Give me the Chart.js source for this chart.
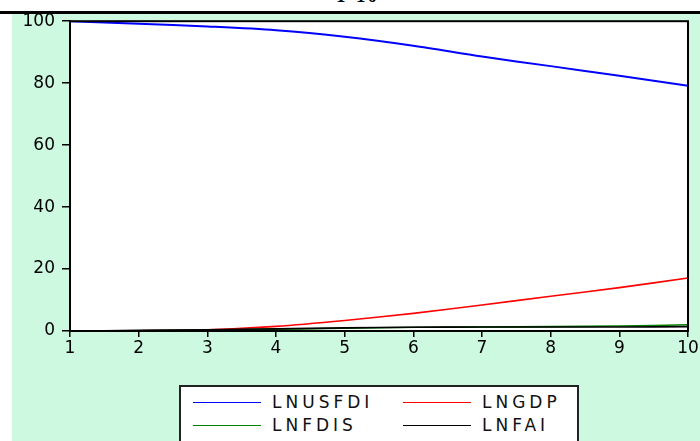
<!DOCTYPE html>
<html lang="en">
<head>
  <meta charset="UTF-8" />
  <title>Variance decomposition of LNUSFDI</title>
  <script src="https://cdn.jsdelivr.net/npm/chart.js"></script>
  <style>
    body { margin: 0; width: 700px; height: 441px; background: #fff; position: relative; overflow: hidden; font-family: "DejaVu Sans", sans-serif; }
    #title { position: absolute; left: 0; width: 714px; top: -15px; text-align: center; font: bold 19px "Liberation Serif", serif; letter-spacing: 2px; }
    #rule { position: absolute; left: 0; top: 11px; width: 700px; height: 3px; background: #000; z-index: 2; }
    #panel { position: absolute; left: 12px; top: 14px; width: 688px; height: 427px; background: #cdf9e1; }
    #wrap { position: absolute; left: 0; top: -10px; width: 688px; height: 370px; }
    #legend { position: absolute; left: 167px; top: 371px; width: 400px; height: 58px; border: 2px solid #222; background: #fff; box-sizing: border-box; }
    .item { position: absolute; display: flex; align-items: center; font-size: 17px; letter-spacing: 4px; color: #111; }
    .item span.line { display: inline-block; width: 68px; height: 0; border-top: 1.5px solid; margin-right: 11px; }
  </style>
</head>
<body>
  <div id="title">T-10</div>
  <div id="rule"></div>
  <div id="panel">
    <div id="wrap"><canvas id="myChart"></canvas></div>
    <div id="legend"></div>
  </div>

  <script>
    const periods = ['1', '2', '3', '4', '5', '6', '7', '8', '9', '10'];
    const lnusfdi = [100, 99.2, 98.3, 97.1, 95.0, 92.1, 88.6, 85.5, 82.4, 79.2];
    const lngdp = [0, 0.1, 0.4, 1.5, 3.4, 5.7, 8.4, 11.2, 14.0, 17.1];
    const lnfdis = [0, 0.1, 0.3, 0.6, 0.9, 1.2, 1.3, 1.4, 1.6, 2.0];
    const lnfai = [0, 0.2, 0.4, 0.7, 1.0, 1.2, 1.3, 1.3, 1.3, 1.4];
    const yTicks = [0, 20, 40, 60, 80, 100];

    const seriesNames = ['LNUSFDI', 'LNGDP', 'LNFDIS', 'LNFAI'];
    const seriesColors = ['#0000ff', '#ff0000', '#008000', '#000000'];
    const seriesData = [lnusfdi, lngdp, lnfdis, lnfai];

    // legend (2 x 2 grid, like the original)
    const legend = document.getElementById('legend');
    seriesNames.forEach(function (name, i) {
      const el = document.createElement('div');
      el.className = 'item';
      el.style.left = (i % 2 === 0 ? 12 : 222) + 'px';
      el.style.top = (i < 2 ? 5 : 28) + 'px';
      el.innerHTML = '<span class="line" style="border-color:' + seriesColors[i] + '"></span>' + name;
      legend.appendChild(el);
    });

    const frame = {
      id: 'frame',
      beforeDraw(chart) {
        const a = chart.chartArea;
        chart.ctx.save();
        chart.ctx.fillStyle = '#fff';
        chart.ctx.fillRect(a.left, a.top, a.right - a.left, a.bottom - a.top);
        chart.ctx.restore();
      },
      afterDraw(chart) {
        const a = chart.chartArea;
        const ctx = chart.ctx;
        ctx.save();
        ctx.strokeStyle = '#000';
        ctx.lineWidth = 2;
        ctx.strokeRect(a.left, a.top, a.right - a.left, a.bottom - a.top);
        ctx.restore();
      }
    };

    const tickFont = { family: '"DejaVu Sans", sans-serif', size: 17 };

    new Chart(document.getElementById('myChart'), {
      type: 'line',
      data: {
        labels: periods,
        datasets: seriesNames.map(function (name, i) {
          return {
            label: name,
            data: seriesData[i],
            borderColor: seriesColors[i],
            borderWidth: i === 0 ? 2 : 1.6,
            pointRadius: 0,
            tension: 0.3,
            fill: false
          };
        }).reverse()
      },
      options: {
        responsive: true,
        maintainAspectRatio: false,
        animation: false,
        layout: { padding: { top: 3, right: 12, left: 0, bottom: 0 } },
        plugins: { legend: { display: false }, tooltip: { enabled: false } },
        scales: {
          x: {
            grid: { drawOnChartArea: false, drawTicks: true, tickLength: 6, color: '#000', lineWidth: 1.5 },
            border: { color: '#000', width: 2 },
            ticks: { color: '#000', font: tickFont, padding: 1, maxRotation: 0 },
            afterFit(scale) { scale.height = 43; }
          },
          y: {
            min: 0,
            max: 100,
            afterBuildTicks(scale) { scale.ticks = yTicks.map(function (v) { return { value: v }; }); },
            grid: { drawOnChartArea: false, drawTicks: true, tickLength: 8, color: '#000', lineWidth: 1.5 },
            border: { color: '#000', width: 2 },
            ticks: { color: '#000', font: tickFont, padding: 7 },
            afterFit(scale) { scale.width = 58; }
          }
        }
      },
      plugins: [frame]
    });
  </script>
</body>
</html>
